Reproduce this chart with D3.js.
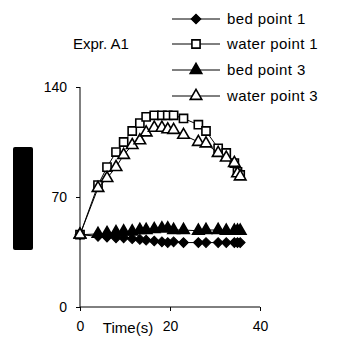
<!DOCTYPE html>
<html><head><meta charset="utf-8">
<script src="https://cdn.jsdelivr.net/npm/d3@7"></script>
<style>body{margin:0;background:#fff}svg{display:block}text{font-family:"Liberation Sans",Arial,sans-serif;fill:#000}</style>
</head><body><svg id="c" width="346" height="338"></svg>
<script>
const times = [0, 4, 6, 8, 9.7, 11.6, 13.3, 14.7, 16.5, 18.2, 19.5, 20.8, 23, 26.3, 28, 30.7, 32.5, 34.3, 35, 35.6];
const bedPoint1 = [46, 45, 44.5, 44, 44, 43.5, 43, 42.5, 42, 41.5, 41, 41.5, 41, 41, 41, 41, 41, 41, 41, 41];
const waterPoint1 = [46, 77.6, 89, 98.6, 105, 112, 117, 121, 122, 122, 122, 122, 120, 116, 112, 101, 98, 91.6, 86, 84];
const bedPoint3 = [46, 46.5, 47, 47.5, 48, 48, 49, 49, 49.5, 50, 50, 49, 49, 48.5, 49, 49, 48.5, 48.5, 48.5, 48.5];
const waterPoint3 = [46, 75.7, 82, 89, 96.7, 103, 106, 111, 114, 114, 113, 112.6, 109.5, 105, 104, 98, 95, 91.6, 85, 83];
const seriesNames = ["bed point 1", "water point 1", "bed point 3", "water point 3"];
const yTicks = [0, 70, 140];
const xTicks = [0, 20, 40];

const svg = d3.select("#c");
const x = d3.scaleLinear().domain([0, 40]).range([80, 260]);
const y = d3.scaleLinear().domain([0, 140]).range([307, 87]);

svg.append("rect").attr("x", 13).attr("y", 147).attr("width", 20).attr("height", 103).attr("rx", 2).attr("fill", "#000");

const yAxis = svg.append("g").attr("transform", "translate(80,0)")
  .call(d3.axisLeft(y).tickValues(yTicks).tickSize(4).tickPadding(9).tickFormat(d3.format("d")));
const xAxis = svg.append("g").attr("transform", "translate(0,307)")
  .call(d3.axisBottom(x).tickValues(xTicks).tickSize(4).tickPadding(10).tickFormat(d3.format("d")));
[yAxis, xAxis].forEach(g => {
  g.selectAll("text").attr("font-size", 14).attr("font-family", "Liberation Sans, Arial, sans-serif").attr("fill", "#000");
  g.selectAll("line").attr("stroke", "#000");
  g.select(".domain").attr("stroke", "#000");
});
yAxis.select(".domain").attr("d", "M0,87V307");
xAxis.select(".domain").attr("d", "M80,0H260");

svg.append("text").attr("x", 128).attr("y", 333).attr("text-anchor", "middle").attr("font-size", 15).text("Time(s)");
svg.append("text").attr("x", 73).attr("y", 49).attr("font-size", 15).text("Expr. A1");

const symbols = {
  "bed point 1": { type: "diamond", fill: "#000" },
  "water point 1": { type: "square", fill: "#fff" },
  "bed point 3": { type: "triangle", fill: "#000" },
  "water point 3": { type: "triangle", fill: "#fff" }
};
const dataSets = [bedPoint1, waterPoint1, bedPoint3, waterPoint3];
const line = d3.line().x(d => x(d[0])).y(d => y(d[1]));

function marker(g, name, cx, cy) {
  const s = symbols[name];
  let p;
  if (s.type === "diamond") {
    p = g.append("path").attr("d", d3.symbol().type(d3.symbolSquare).size(48)())
      .attr("transform", `translate(${cx},${cy}) rotate(45)`).attr("stroke-width", 1);
  } else if (s.type === "square") {
    p = g.append("path").attr("d", d3.symbol().type(d3.symbolSquare2).size(85)())
      .attr("transform", `translate(${cx},${cy})`).attr("stroke-width", 1.6);
  } else {
    p = g.append("path").attr("d", d3.symbol().type(d3.symbolTriangle2).size(95)())
      .attr("transform", `translate(${cx},${cy})`).attr("stroke-width", 1.6);
  }
  p.attr("fill", s.fill).attr("stroke", "#000");
}

dataSets.forEach((vals, i) => {
  const name = seriesNames[i];
  const pts = times.map((t, j) => [t, vals[j]]);
  const g = svg.append("g");
  g.append("path").attr("d", line(pts)).attr("fill", "none").attr("stroke", "#000").attr("stroke-width", 1);
  pts.forEach(p => marker(g, name, x(p[0]), y(p[1])));
});

const legY = [19, 44, 70, 96];
seriesNames.forEach((name, i) => {
  const g = svg.append("g");
  g.append("line").attr("x1", 172).attr("x2", 220).attr("y1", legY[i]).attr("y2", legY[i]).attr("stroke", "#000");
  marker(g, name, 196, legY[i]);
  g.append("text").attr("x", 227).attr("y", legY[i] + 5).attr("font-size", 15).attr("letter-spacing", 0.4).text(name);
});
</script></body></html>
